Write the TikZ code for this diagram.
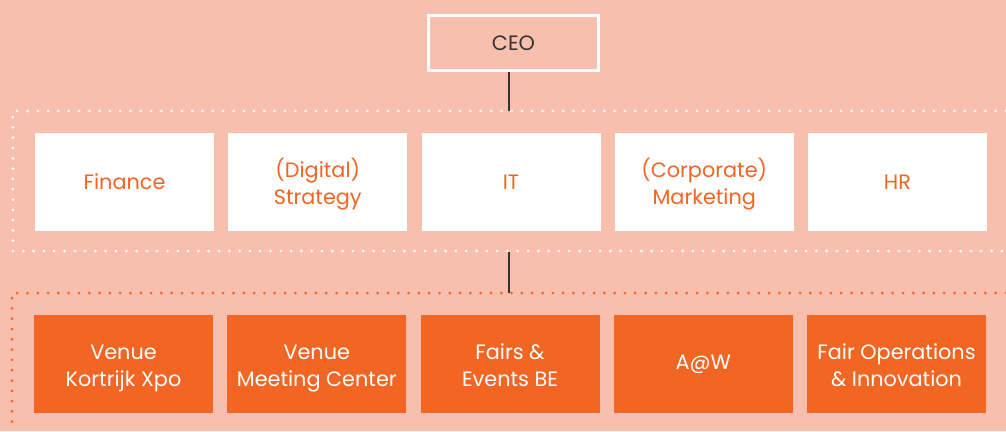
\documentclass[tikz,border=0pt]{standalone}
\usepackage{fontspec}
\setmainfont{Poppins}
\definecolor{salmon}{HTML}{F9BFAE}
\definecolor{brand}{HTML}{F26522}
\definecolor{ink}{HTML}{333333}
\tikzset{
  ceobox/.style={shape=rectangle, draw=white, line width=2.7pt, fill=salmon,
    minimum width=170pt, minimum height=55.5pt, text=ink},
  staff/.style={shape=rectangle, fill=white, minimum width=179pt, minimum height=98pt,
    text=brand, align=center},
  unit/.style={shape=rectangle, fill=brand, minimum width=179pt, minimum height=98pt,
    text=white, align=center},
  twoline/.style={text height=50pt, text depth=6pt},
  link/.style={draw=ink, line width=2pt},
  dots/.style={line width=3pt, line cap=round, dash pattern=on 0pt off 10.3pt}
}
\begin{document}
\begin{tikzpicture}[x=1pt, y=-1pt, font=\fontsize{20.8}{27}\selectfont]
    \fill[salmon] (0,0) rectangle (1006,431);
    \useasboundingbox (0,0) rectangle (1006,431);

    \draw[dots, white] (1006,111) -- (13,111) -- (13,251) -- (1006,251);
    \draw[dots, brand] (1006,293) -- (12,293) -- (12,431);

    \node[ceobox] (ceo) at (513.5,43) {CEO};

    \node[staff] (fin) at (124.5,182) {Finance};
    \node[staff, twoline] (strat) at (317.75,182) {(Digital)\\Strategy};
    \node[staff] (it) at (511,182) {IT};
    \node[staff, twoline] (mkt) at (704.25,182) {(Corporate)\\Marketing};
    \node[staff] (hr) at (897.5,182) {HR};

    \node[unit, twoline] (kxpo) at (123.5,364) {Venue\\Kortrijk Xpo};
    \node[unit, twoline] (meet) at (316.75,364) {Venue\\Meeting Center};
    \node[unit, twoline] (fairs) at (510,364) {Fairs \&\\Events BE};
    \node[unit] (aw) at (703.25,364) {A@W};
    \node[unit, twoline] (ops) at (896.5,364) {Fair Operations\\\& Innovation};

    \coordinate (j1) at (509.3,111);
    \coordinate (j2) at (509.3,252);
    \coordinate (j3) at (509.3,293);
    \draw[link] (ceo.south -| j1) -- (j1);
    \draw[link] (j2) -- (j3);
\end{tikzpicture}
\end{document}
